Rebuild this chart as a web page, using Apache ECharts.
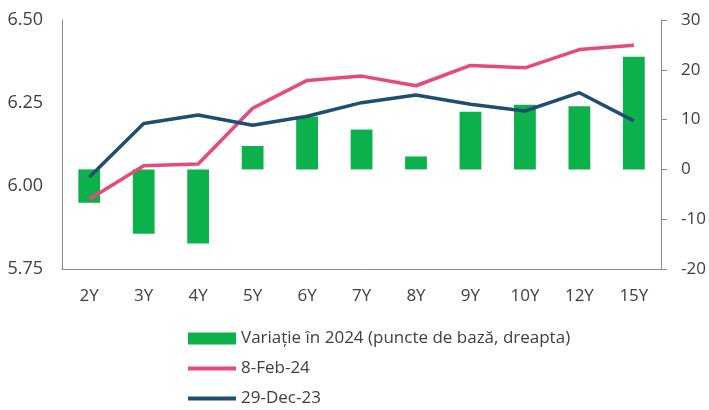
<!DOCTYPE html>
<html lang="ro">
    <head>
        <meta charset="UTF-8">
        <title>Randamente</title>
        <style>
            *{
                margin: 0;
                padding: 0;
            }
            body{
                background: #ffffff;
            }
            #chart{
                width: 709px;
                height: 410px;
            }
        </style>
        <script src="https://cdn.jsdelivr.net/npm/echarts@6/dist/echarts.min.js"></script>
    </head>
    <body>
        <div id="chart"></div>
        <script>
            // maturities
            var categories = ['2Y', '3Y', '4Y', '5Y', '6Y', '7Y', '8Y', '9Y', '10Y', '12Y', '15Y'];
            // change in 2024, basis points (right axis)
            var variatie = [-6.7, -12.9, -14.9, 4.7, 10.6, 8.0, 2.6, 11.6, 13.0, 12.7, 22.6];
            // yields (left axis)
            var feb8 = [5.960, 6.061, 6.066, 6.234, 6.318, 6.331, 6.302, 6.363, 6.356, 6.411, 6.424];
            var dec29 = [6.026, 6.188, 6.214, 6.183, 6.210, 6.251, 6.274, 6.246, 6.226, 6.281, 6.196];

            var names = ['Variație în 2024 (puncte de bază, dreapta)', '8-Feb-24', '29-Dec-23'];
            var axisGrey = '#8c8c8c';
            var textCol = '#404040';
            var font = 'Open Sans';
            // thin bar inside a 48x12 box, for the line entries of the legend
            var lineIcon = 'path://M0,0 L0,0 Z M0,4 L48,4 L48,8 L0,8 Z M0,12 L0,12 Z';

            var chart = echarts.init(document.getElementById('chart'));
            var option = {
                animation: false,
                textStyle: { fontFamily: font },
                grid: { left: 62, right: 45, top: 20, bottom: 141 },
                legend: {
                    orient: 'vertical',
                    left: 183,
                    top: 325,
                    height: 90,
                    itemWidth: 48,
                    itemHeight: 12,
                    itemGap: 13,
                    textStyle: { fontSize: 17, color: textCol, fontFamily: font },
                    data: [
                        { name: names[0], icon: 'rect' },
                        { name: names[1], icon: lineIcon },
                        { name: names[2], icon: lineIcon }
                    ]
                },
                xAxis: {
                    type: 'category',
                    data: categories,
                    axisLine: { onZero: false, lineStyle: { color: axisGrey, width: 1 } },
                    axisTick: { show: false },
                    axisLabel: { color: textCol, fontSize: 17, margin: 19 }
                },
                yAxis: [{
                    type: 'value',
                    min: 5.75,
                    max: 6.5,
                    interval: 0.25,
                    position: 'left',
                    splitLine: { show: false },
                    axisLine: { show: true, lineStyle: { color: axisGrey } },
                    axisTick: { show: false },
                    axisLabel: {
                        color: textCol, fontSize: 18, margin: 19,
                        formatter: function (v) { return v.toFixed(2); }
                    }
                }, {
                    type: 'value',
                    min: -20,
                    max: 30,
                    interval: 10,
                    position: 'right',
                    splitLine: { show: false },
                    axisLine: { show: true, lineStyle: { color: axisGrey } },
                    axisTick: { show: true, length: 6, lineStyle: { color: axisGrey } },
                    axisLabel: { color: textCol, fontSize: 17, margin: 20 }
                }],
                series: [{
                    name: names[0],
                    type: 'bar',
                    yAxisIndex: 1,
                    barWidth: '40%',
                    itemStyle: { color: '#0db14b' },
                    data: variatie
                }, {
                    name: names[1],
                    type: 'line',
                    yAxisIndex: 0,
                    symbol: 'none',
                    lineStyle: { color: '#e8497a', width: 3.5 },
                    itemStyle: { color: '#e8497a' },
                    data: feb8
                }, {
                    name: names[2],
                    type: 'line',
                    yAxisIndex: 0,
                    symbol: 'none',
                    lineStyle: { color: '#1f4e72', width: 3.5 },
                    itemStyle: { color: '#1f4e72' },
                    data: dec29
                }]
            };
            chart.setOption(option);
        </script>
    </body>
</html>
